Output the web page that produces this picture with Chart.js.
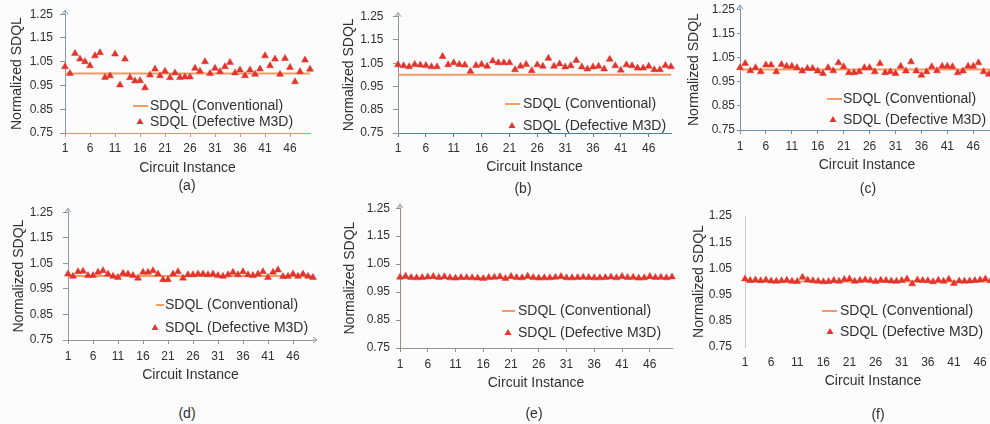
<!DOCTYPE html>
<html>
<head>
<meta charset="utf-8">
<script src="https://cdn.jsdelivr.net/npm/chart.js@4.4.1/dist/chart.umd.min.js"></script>
<style>
  html, body { margin: 0; padding: 0; background: #fcfcfd; }
  body { width: 990px; height: 424px; position: relative; overflow: hidden; font-family: "Liberation Sans", Arial, sans-serif; }
  canvas { position: absolute; }
  .caption { position: absolute; font-size: 14px; color: #303030; transform: translate(-50%, -50%); white-space: nowrap; }
</style>
</head>
<body>
<script>
// circuit instances on the x axis
const instances = [1, 2, 3, 4, 5, 6, 7, 8, 9, 10, 11, 12, 13, 14, 15, 16, 17, 18, 19, 20,
  21, 22, 23, 24, 25, 26, 27, 28, 29, 30, 31, 32, 33, 34, 35, 36, 37, 38, 39, 40,
  41, 42, 43, 44, 45, 46, 47, 48, 49, 50];
const xTickLabels = [1, 6, 11, 16, 21, 26, 31, 36, 41, 46];
const yTickValues = [0.75, 0.85, 0.95, 1.05, 1.15, 1.25];

// conventional SDQL is the normalisation base
const conventional = [1, 1, 1, 1, 1, 1, 1, 1, 1, 1, 1, 1, 1, 1, 1, 1, 1, 1, 1, 1,
  1, 1, 1, 1, 1, 1, 1, 1, 1, 1, 1, 1, 1, 1, 1, 1, 1, 1, 1, 1,
  1, 1, 1, 1, 1, 1, 1, 1, 1, 1];

const defectiveA = [1.029, 1.000, 1.085, 1.061, 1.050, 1.033, 1.075, 1.088, 0.984, 0.991,
  1.082, 0.952, 1.061, 0.983, 0.969, 0.970, 0.940, 0.994, 1.019, 0.991,
  1.010, 0.983, 1.003, 0.984, 0.986, 0.986, 1.022, 1.010, 1.050, 1.000,
  1.022, 1.008, 1.029, 1.047, 1.003, 1.015, 0.991, 1.015, 0.997, 1.019,
  1.075, 1.033, 1.061, 0.997, 1.064, 1.026, 0.966, 1.008, 1.057, 1.018];
const defectiveB = [1.043, 1.039, 1.035, 1.045, 1.042, 1.040, 1.035, 1.035, 1.079, 1.043,
  1.052, 1.045, 1.042, 1.015, 1.040, 1.045, 1.037, 1.060, 1.052, 1.052,
  1.052, 1.022, 1.037, 1.045, 1.018, 1.043, 1.037, 1.071, 1.037, 1.047,
  1.034, 1.039, 1.062, 1.034, 1.025, 1.034, 1.037, 1.025, 1.067, 1.039,
  1.020, 1.043, 1.039, 1.029, 1.029, 1.037, 1.022, 1.022, 1.040, 1.035];
const defectiveC = [1.008, 1.025, 0.995, 1.008, 0.991, 1.019, 1.019, 0.991, 1.021, 1.014,
  1.014, 1.008, 0.994, 1.005, 1.005, 0.994, 0.984, 1.008, 0.995, 1.028,
  1.012, 0.987, 0.987, 0.991, 1.008, 1.008, 0.991, 1.025, 0.987, 0.991,
  0.984, 1.014, 0.994, 1.032, 0.994, 0.977, 0.991, 1.012, 0.995, 1.014,
  1.014, 1.012, 0.987, 0.994, 1.014, 1.014, 1.028, 0.991, 0.981, 1.000];
const defectiveD = [1.008, 0.999, 1.017, 1.019, 1.002, 1.002, 1.015, 1.021, 1.008, 0.999,
  0.995, 1.011, 1.008, 1.002, 0.992, 1.015, 1.015, 1.021, 1.008, 0.986,
  0.986, 1.008, 1.017, 0.992, 1.005, 1.005, 1.008, 1.008, 1.005, 1.008,
  1.002, 0.999, 1.005, 1.015, 1.005, 1.017, 1.005, 1.002, 1.008, 1.017,
  0.995, 1.015, 1.024, 0.998, 0.999, 1.008, 0.999, 1.008, 0.999, 0.995];
const defectiveE = [1.003, 1.007, 1.002, 1.001, 1.002, 1.004, 1.006, 1.002, 1.005, 1.001,
  1.000, 1.002, 1.002, 1.001, 1.000, 0.999, 1.002, 1.003, 1.005, 0.999,
  1.006, 1.002, 1.001, 1.007, 1.002, 1.000, 1.001, 1.001, 1.003, 1.006,
  1.001, 1.001, 1.002, 1.003, 1.002, 1.001, 1.001, 1.002, 1.004, 1.001,
  1.006, 1.002, 1.003, 1.000, 1.001, 1.006, 1.002, 1.003, 1.001, 1.004];
const defectiveF = [1.010, 1.004, 1.006, 1.003, 1.006, 1.002, 1.001, 1.003, 1.005, 1.001,
  1.000, 1.016, 1.006, 1.003, 1.001, 0.999, 1.000, 1.004, 1.001, 1.008,
  1.010, 1.001, 1.004, 1.007, 1.004, 1.000, 1.005, 1.004, 1.002, 1.001,
  1.004, 1.010, 0.991, 1.006, 1.004, 1.003, 0.999, 1.005, 1.001, 1.009,
  0.992, 1.002, 1.001, 1.002, 1.004, 1.006, 1.010, 1.003, 1.002, 1.003];

const seriesNames = ['SDQL (Conventional)', 'SDQL (Defective M3D)'];
const captions = ['(a)', '(b)', '(c)', '(d)', '(e)', '(f)'];
const xTitle = 'Circuit Instance';
const yTitle = 'Normalized SDQL';

const RED = '#e3332b';
const ORANGE = '#f29b64';
const TEXT = '#303030';
const FONT = '"Liberation Sans", Arial, sans-serif';
const TITLE_LH = 14 * 1.2;

// where each panel sits on the page (page pixels)
const panels = [
  { values: defectiveA, box: [0, 0], area: [65, 14, 310, 133], yTitleX: 17, xTitleY: 168, caption: [187, 185],
    yTick: [5, 7], xTick: [4, 4.3], axisY: '#8a97a6', axisX: '#d9946f', arrowY: true, arrowX: false,
    legend: { line: [133, 148], text: 150, tri: 140, rows: [106, 122] } },
  { values: defectiveB, box: [330, 0], area: [398, 14, 671, 133], yTitleX: 348.7, xTitleY: 167, caption: [523, 188],
    yTick: [5, 9.5], xTick: [4, 4.8], axisY: '#8d96a0', axisX: '#4d80ad', arrowY: true, arrowX: false,
    legend: { line: [505, 520], text: 523, tri: 512, rows: [104, 126] } },
  { values: defectiveC, box: [660, 0], area: [740, 9, 994, 130], yTitleX: 693.7, xTitleY: 165, caption: [868, 188],
    yTick: [3, 2], xTick: [4, 5.5], axisY: '#7f93a8', axisX: '#6d8fb0', arrowY: true, arrowX: false,
    legend: { line: [827, 842], text: 843, tri: 833, rows: [99, 120] } },
  { values: defectiveD, box: [0, 195], area: [68, 211, 313, 340], yTitleX: 18.7, xTitleY: 375, caption: [187, 413],
    yTick: [5, 10], xTick: [4, 5.5], axisY: '#8f979f', axisX: '#8f979f', arrowY: true, arrowX: true,
    legend: { line: [156, 164], text: 165, tri: 155, rows: [305, 328] } },
  { values: defectiveE, box: [330, 195], area: [400, 204, 672, 348], yTitleX: 350.3, xTitleY: 383, caption: [534, 413],
    yTick: [4, 6], xTick: [4, 5.8], axisY: '#9a8f88', axisX: '#9a8f88', arrowY: true, arrowX: false,
    legend: { line: [502, 515], text: 518, tri: 508, rows: [311, 333] } },
  { values: defectiveF, box: [660, 195], area: [745, 216, 1001, 347], yTitleX: 698.8, xTitleY: 381, caption: [878, 414],
    yTick: [0, 13], xTick: [0, 8.8], axisY: '#bccbdb', axisX: 'rgba(0,0,0,0)', arrowY: false, arrowX: false,
    legend: { line: [822, 837], text: 840, tri: 830, rows: [311, 332] } }
];

function makeDecor(p) {
  return {
    id: 'panelDecor',
    afterDraw(chart) {
      const ctx = chart.ctx;
      const { left, top, right, bottom } = chart.chartArea;
      const ox = p.box[0], oy = p.box[1];
      ctx.save();
      ctx.lineWidth = 1;
      if (p.arrowY) {
        ctx.strokeStyle = p.axisY;
        ctx.beginPath();
        ctx.moveTo(left, top);
        ctx.lineTo(left, top - 4);
        ctx.moveTo(left - 3, top);
        ctx.lineTo(left, top - 4);
        ctx.lineTo(left + 3, top);
        ctx.stroke();
      }
      if (p.arrowX) {
        ctx.strokeStyle = p.axisX;
        ctx.beginPath();
        ctx.moveTo(right, bottom);
        ctx.lineTo(right + 4, bottom);
        ctx.moveTo(right, bottom - 3);
        ctx.lineTo(right + 4, bottom);
        ctx.lineTo(right, bottom + 3);
        ctx.stroke();
      }
      // legend inside the plot
      const lg = p.legend;
      ctx.strokeStyle = ORANGE;
      ctx.lineWidth = 2;
      ctx.beginPath();
      ctx.moveTo(lg.line[0] - ox, lg.rows[0] - oy);
      ctx.lineTo(lg.line[1] - ox, lg.rows[0] - oy);
      ctx.stroke();
      ctx.fillStyle = RED;
      ctx.strokeStyle = RED;
      Chart.helpers.drawPoint(ctx, { pointStyle: 'triangle', radius: 4, rotation: 0, borderWidth: 0 }, lg.tri - ox, lg.rows[1] - oy);
      ctx.fillStyle = TEXT;
      ctx.font = '14px ' + FONT;
      ctx.textAlign = 'left';
      ctx.textBaseline = 'middle';
      ctx.fillText(seriesNames[0], lg.text - ox, lg.rows[0] - oy);
      ctx.fillText(seriesNames[1], lg.text - ox, lg.rows[1] - oy);
      ctx.restore();
    }
  };
}

panels.forEach(function (p, i) {
  const w = p.area[2] - p.box[0] + 20;
  const h = p.xTitleY + 12 - p.box[1];
  const canvas = document.createElement('canvas');
  canvas.width = w;
  canvas.height = h;
  canvas.style.left = p.box[0] + 'px';
  canvas.style.top = p.box[1] + 'px';
  canvas.style.width = w + 'px';
  canvas.style.height = h + 'px';
  document.body.appendChild(canvas);

  const cap = document.createElement('div');
  cap.className = 'caption';
  cap.textContent = captions[i];
  cap.style.left = p.caption[0] + 'px';
  cap.style.top = p.caption[1] + 'px';
  document.body.appendChild(cap);

  const yAxisW = p.area[0] - p.box[0];
  const xAxisH = h - (p.area[3] - p.box[1]);

  new Chart(canvas, {
    type: 'line',
    data: {
      labels: instances,
      datasets: [
        {
          label: seriesNames[1],
          data: p.values,
          showLine: false,
          pointStyle: 'triangle',
          pointRadius: 4,
          pointBackgroundColor: RED,
          pointBorderColor: RED,
          pointBorderWidth: 0.5,
          clip: false
        },
        {
          label: seriesNames[0],
          data: conventional,
          borderColor: ORANGE,
          borderWidth: 2,
          pointRadius: 0,
          tension: 0
        }
      ]
    },
    options: {
      responsive: false,
      animation: false,
      devicePixelRatio: 1,
      layout: {
        padding: { left: 0, right: p.box[0] + w - p.area[2], top: p.area[1] - p.box[1], bottom: 0 }
      },
      plugins: {
        legend: { display: false },
        tooltip: { enabled: false }
      },
      scales: {
        x: {
          type: 'category',
          offset: false,
          border: { display: true, color: p.axisX, width: 1 },
          grid: {
            display: true,
            drawOnChartArea: false,
            drawTicks: true,
            tickLength: p.xTick[0],
            tickColor: function (c) {
              return xTickLabels.includes(instances[c.index]) ? p.axisX : 'rgba(0,0,0,0)';
            }
          },
          ticks: {
            autoSkip: false,
            maxRotation: 0,
            minRotation: 0,
            padding: p.xTick[1],
            color: TEXT,
            font: { family: FONT, size: 12 },
            callback: function (value, index) {
              const n = instances[index];
              return xTickLabels.includes(n) ? String(n) : '';
            }
          },
          title: {
            display: true,
            text: xTitle,
            color: TEXT,
            font: { family: FONT, size: 14 },
            padding: { top: 0, bottom: h - (p.xTitleY - p.box[1]) - TITLE_LH / 2 }
          },
          afterFit: function (s) { s.height = xAxisH; }
        },
        y: {
          type: 'linear',
          min: 0.75,
          max: 1.25,
          border: { display: true, color: p.axisY, width: 1 },
          grid: {
            display: true,
            drawOnChartArea: false,
            drawTicks: true,
            tickLength: p.yTick[0],
            tickColor: p.axisY
          },
          afterBuildTicks: function (s) {
            s.ticks = yTickValues.map(v => ({ value: v }));
          },
          ticks: {
            padding: p.yTick[1],
            color: TEXT,
            font: { family: FONT, size: 12 },
            callback: function (v) { return v.toFixed(2); }
          },
          title: {
            display: true,
            text: yTitle,
            color: TEXT,
            font: { family: FONT, size: 14 },
            padding: { top: p.yTitleX - p.box[0] - TITLE_LH / 2, bottom: 0 }
          },
          afterFit: function (s) { s.width = yAxisW; }
        }
      }
    },
    plugins: [makeDecor(p)]
  });
});
</script>
</body>
</html>
